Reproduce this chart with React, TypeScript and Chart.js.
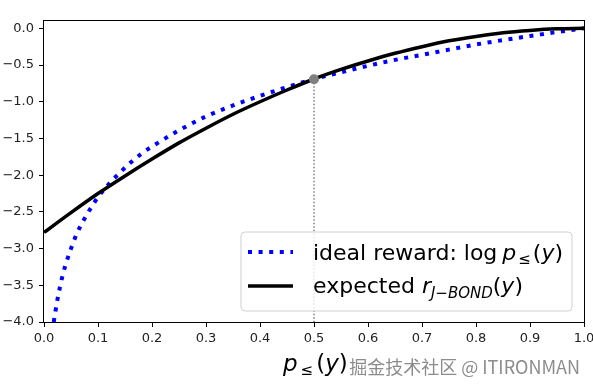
import React, { useEffect, useRef } from 'react';
import { Chart, registerables } from 'chart.js';

Chart.register(...registerables);

// ---- data ----
const idealX = [0.018, 0.02, 0.025, 0.03, 0.035, 0.04, 0.05, 0.06, 0.07, 0.08, 0.09, 0.1, 0.12, 0.14, 0.16, 0.18, 0.2, 0.25, 0.3, 0.35, 0.4, 0.45, 0.5, 0.55, 0.6, 0.65, 0.7, 0.75, 0.8, 0.85, 0.9, 0.95, 1.0];
const idealY = [-4.0, -3.91, -3.69, -3.51, -3.35, -3.22, -3.0, -2.81, -2.66, -2.53, -2.41, -2.3, -2.12, -1.97, -1.83, -1.71, -1.61, -1.39, -1.2, -1.05, -0.92, -0.8, -0.69, -0.6, -0.51, -0.43, -0.36, -0.29, -0.22, -0.16, -0.105, -0.05, 0.0];

const expX = [0, 0.05, 0.1, 0.15, 0.2, 0.25, 0.3, 0.35, 0.4, 0.45, 0.5, 0.55, 0.6, 0.65, 0.7, 0.75, 0.8, 0.85, 0.9, 0.95, 1.0];
const expY = [-2.78, -2.51, -2.25, -2.01, -1.78, -1.56, -1.36, -1.17, -1.0, -0.84, -0.69, -0.56, -0.445, -0.34, -0.25, -0.17, -0.11, -0.06, -0.028, -0.007, 0.0];

const markX = [0.5];
const markY = [-0.693];
const vlineX = [0.5, 0.5];
const vlineY = [-0.693, -4.0];

const xRange = [0, 1];
const yRange = [-4, 0.1];
const xStep = 0.1;
const yStep = 0.5;

const legendLabels = ['ideal reward', 'expected'];
const watermark = '掘金技术社区 @ ITIRONMAN';

const zip = (xs: number[], ys: number[]) => xs.map((x, i) => ({ x, y: ys[i] }));

type Run = { t: string; italic?: boolean; size: number; dy?: number; dx?: number };
const FONT = '"DejaVu Sans"';

function drawRuns(ctx: CanvasRenderingContext2D, runs: Run[], x: number, y: number) {
  ctx.textBaseline = 'alphabetic';
  ctx.textAlign = 'left';
  for (const r of runs) {
    x += r.dx || 0;
    ctx.font = `${r.italic ? 'italic ' : ''}${r.size}px ${FONT}`;
    ctx.fillText(r.t, x, y + (r.dy || 0));
    x += ctx.measureText(r.t).width;
  }
}

const overlayPlugin = {
  id: 'overlay',
  afterDatasetsDraw(chart: any) {
    const ctx: CanvasRenderingContext2D = chart.ctx;
    const a = chart.chartArea;
    ctx.save();
    // frame
    ctx.strokeStyle = '#000';
    ctx.lineWidth = 1;
    ctx.setLineDash([]);
    ctx.strokeRect(Math.round(a.left) - 0.5, Math.round(a.top) - 0.5, Math.round(a.right - a.left) + 1, Math.round(a.bottom - a.top) + 1);

    // legend box
    const bx = 241, by = 232, bw = 331, bh = 79, rr = 4;
    ctx.beginPath();
    ctx.moveTo(bx + rr, by);
    ctx.arcTo(bx + bw, by, bx + bw, by + bh, rr);
    ctx.arcTo(bx + bw, by + bh, bx, by + bh, rr);
    ctx.arcTo(bx, by + bh, bx, by, rr);
    ctx.arcTo(bx, by, bx + bw, by, rr);
    ctx.closePath();
    ctx.fillStyle = 'rgba(255,255,255,0.8)';
    ctx.fill();
    ctx.strokeStyle = '#d0d0d0';
    ctx.lineWidth = 1;
    ctx.stroke();

    // legend samples
    const ds = chart.data.datasets;
    ctx.lineCap = 'butt';
    ctx.beginPath();
    ctx.strokeStyle = ds[0].borderColor;
    ctx.lineWidth = ds[0].borderWidth;
    ctx.setLineDash(ds[0].borderDash);
    ctx.moveTo(248, 252);
    ctx.lineTo(293, 252);
    ctx.stroke();
    ctx.beginPath();
    ctx.strokeStyle = ds[1].borderColor;
    ctx.lineWidth = ds[1].borderWidth;
    ctx.setLineDash([]);
    ctx.moveTo(248, 286);
    ctx.lineTo(293, 286);
    ctx.stroke();

    ctx.fillStyle = '#000';
    const S = 22, s = 15;
    drawRuns(ctx, [
      { t: legendLabels[0] + ': log', size: S },
      { t: 'p', italic: true, size: S, dx: 5 },
      { t: '≤', size: s, dy: 4, dx: 2 },
      { t: '(', size: S, dx: 2 },
      { t: 'y', italic: true, size: S },
      { t: ')', size: S },
    ], 313, 260);
    drawRuns(ctx, [
      { t: legendLabels[1] + ' ', size: S },
      { t: 'r', italic: true, size: S },
      { t: 'J\u2212BOND', italic: true, size: s, dy: 5 },
      { t: '(', size: S },
      { t: 'y', italic: true, size: S },
      { t: ')', size: S },
    ], 313, 293);

    // x axis title
    drawRuns(ctx, [
      { t: 'p', italic: true, size: 23 },
      { t: '≤', size: s, dy: 4, dx: 3 },
      { t: '(', size: 23, dx: 3 },
      { t: 'y', italic: true, size: 23 },
      { t: ')', size: 23 },
    ], 283, 371);

    // watermark
    ctx.font = '18px "Noto Sans CJK SC"';
    ctx.fillStyle = '#8c8c8c';
    ctx.textAlign = 'right';
    ctx.fillText(watermark, 580, 374);
    ctx.restore();
  },
};

export default function App() {
  const ref = useRef<HTMLCanvasElement | null>(null);
  useEffect(() => {
    if (!ref.current) return;
    const tickFont = { family: 'DejaVu Sans', size: 13 };
    const chart = new Chart(ref.current, {
      type: 'line',
      data: {
        datasets: [
          {
            label: 'ideal',
            data: zip(idealX, idealY),
            borderColor: '#0000ff',
            borderWidth: 4,
            borderDash: [4, 6.6],
            borderCapStyle: 'butt',
            pointRadius: 0,
            cubicInterpolationMode: 'monotone',
            fill: false,
            order: 2,
          },
          {
            label: 'expected',
            data: zip(expX, expY),
            borderColor: '#000000',
            borderWidth: 3.5,
            pointRadius: 0,
            cubicInterpolationMode: 'monotone',
            fill: false,
            order: 1,
          },
          {
            label: 'mark',
            data: zip(markX, markY),
            showLine: false,
            pointRadius: 5,
            pointBackgroundColor: '#808080',
            pointBorderColor: '#808080',
            pointBorderWidth: 0,
            order: 0,
          },
          {
            label: 'vline',
            data: zip(vlineX, vlineY),
            borderColor: '#6a6a6a',
            borderWidth: 1.3,
            borderDash: [1.5, 2],
            pointRadius: 0,
            order: 3,
          },
        ],
      } as any,
      options: {
        animation: false,
        responsive: false,
        devicePixelRatio: 1,
        layout: { padding: { top: 21, right: 9, bottom: 0, left: 0 } },
        plugins: { legend: { display: false }, tooltip: { enabled: false } },
        scales: {
          x: {
            type: 'linear',
            min: xRange[0],
            max: xRange[1],
            afterFit: (sc: any) => { sc.height = 67; sc.paddingRight = 0; sc.paddingLeft = 0; },
            border: { display: false },
            grid: { display: true, drawOnChartArea: false, drawTicks: true, tickLength: 5, color: '#000' },
            ticks: {
              stepSize: xStep,
              padding: 4,
              color: '#222',
              font: tickFont,
              maxRotation: 0,
              autoSkip: false,
              callback: (v: any) => Number(v).toFixed(1),
            },
          },
          y: {
            type: 'linear',
            min: yRange[0],
            max: yRange[1],
            afterFit: (sc: any) => { sc.width = 44; sc.paddingTop = 0; sc.paddingBottom = 0; },
            border: { display: false },
            grid: { display: true, drawOnChartArea: false, drawTicks: true, tickLength: 5, color: '#000' },
            ticks: {
              stepSize: yStep,
              includeBounds: false,
              padding: 5,
              color: '#222',
              font: tickFont,
              autoSkip: false,
              callback: (v: any) => {
                const n = Number(v);
                return (n < -1e-9 ? '\u2212' : '') + Math.abs(n).toFixed(1);
              },
            },
          },
        },
      } as any,
      plugins: [overlayPlugin],
    });
    return () => chart.destroy();
  }, []);
  return (
    <div style={{ position: 'absolute', left: 0, top: 0, width: 593, height: 389, background: '#fff' }}>
      <canvas ref={ref} width={593} height={389} style={{ width: 593, height: 389, display: 'block' }} />
    </div>
  );
}
